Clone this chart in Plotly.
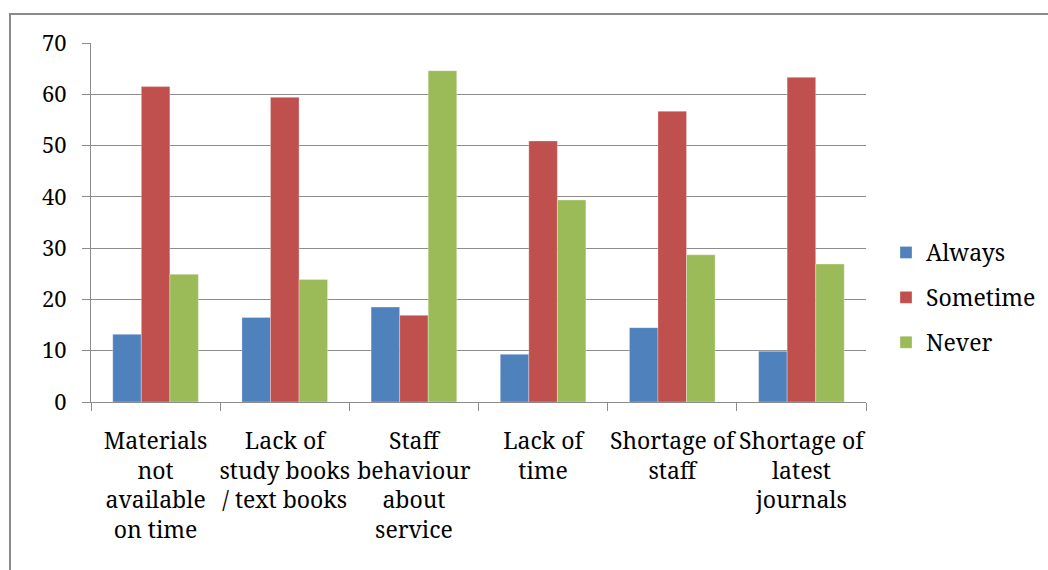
import plotly.graph_objects as go

# Survey responses (%) on library service problems
categories = [
    "Materials<br>not<br>available<br>on time",
    "Lack of<br>study books<br>/ text books",
    "Staff<br>behaviour<br>about<br>service",
    "Lack of<br>time",
    "Shortage of<br>staff",
    "Shortage of<br>latest<br>journals",
]
always = [13.2, 16.5, 18.5, 9.3, 14.5, 9.9]
sometime = [61.5, 59.4, 16.9, 50.9, 56.7, 63.3]
never = [24.9, 23.9, 64.6, 39.4, 28.7, 26.9]

series = [
    ("Always", always, "#4F81BD"),
    ("Sometime", sometime, "#C0504D"),
    ("Never", never, "#9BBB59"),
]

W, H = 1048, 570
L, R, T, B = 91, 182, 43, 168
plot_w = W - L - R
plot_h = H - T - B

FONT = "Noto Serif, DejaVu Serif, serif"
GRID = "#8C8C8C"

fig = go.Figure()
for i, (name, vals, color) in enumerate(series):
    fig.add_trace(go.Bar(
        name=name, x=categories, y=vals,
        marker=dict(color=color, line=dict(color="rgba(255,255,255,0.6)", width=0.5)),
        legendgroup=name,
    ))

def px_x(p):
    return (p - L) / plot_w

def px_y(p):
    return (H - B - p) / plot_h

# outer chart frame (top and left edges visible)
fig.add_shape(type="rect", xref="paper", yref="paper",
              x0=px_x(10), x1=px_x(1060), y0=px_y(580), y1=px_y(14),
              line=dict(color="#8A8A8A", width=2), fillcolor="rgba(0,0,0,0)",
              layer="below")

fig.update_layout(
    width=W, height=H,
    margin=dict(l=L, r=R, t=T, b=B, pad=0, autoexpand=False),
    paper_bgcolor="white", plot_bgcolor="white",
    barmode="group", bargap=0.337, bargroupgap=0,
    font=dict(family=FONT, size=23, color="black"),
    legend=dict(
        x=px_x(886), y=px_y(231), xanchor="left", yanchor="top",
        font=dict(family=FONT, size=23, color="black"),
        tracegroupgap=12, traceorder="grouped",
        bgcolor="rgba(0,0,0,0)",
    ),
    showlegend=True,
)

fig.update_yaxes(
    range=[0, 70], dtick=10, showgrid=True, gridcolor=GRID, gridwidth=1,
    showline=True, linecolor=GRID, linewidth=1,
    ticks="outside", ticklen=8, tickcolor=GRID,
    ticklabelstandoff=11,
    tickfont=dict(family=FONT, size=22, color="black"),
    zeroline=False,
)
fig.update_xaxes(
    showline=True, linecolor=GRID, linewidth=1,
    ticks="outside", ticklen=8, tickcolor=GRID, tickson="boundaries",
    tickangle=0, ticklabelstandoff=18,
    tickfont=dict(family=FONT, size=23, color="black"),
)

fig.write_html("out.html")
